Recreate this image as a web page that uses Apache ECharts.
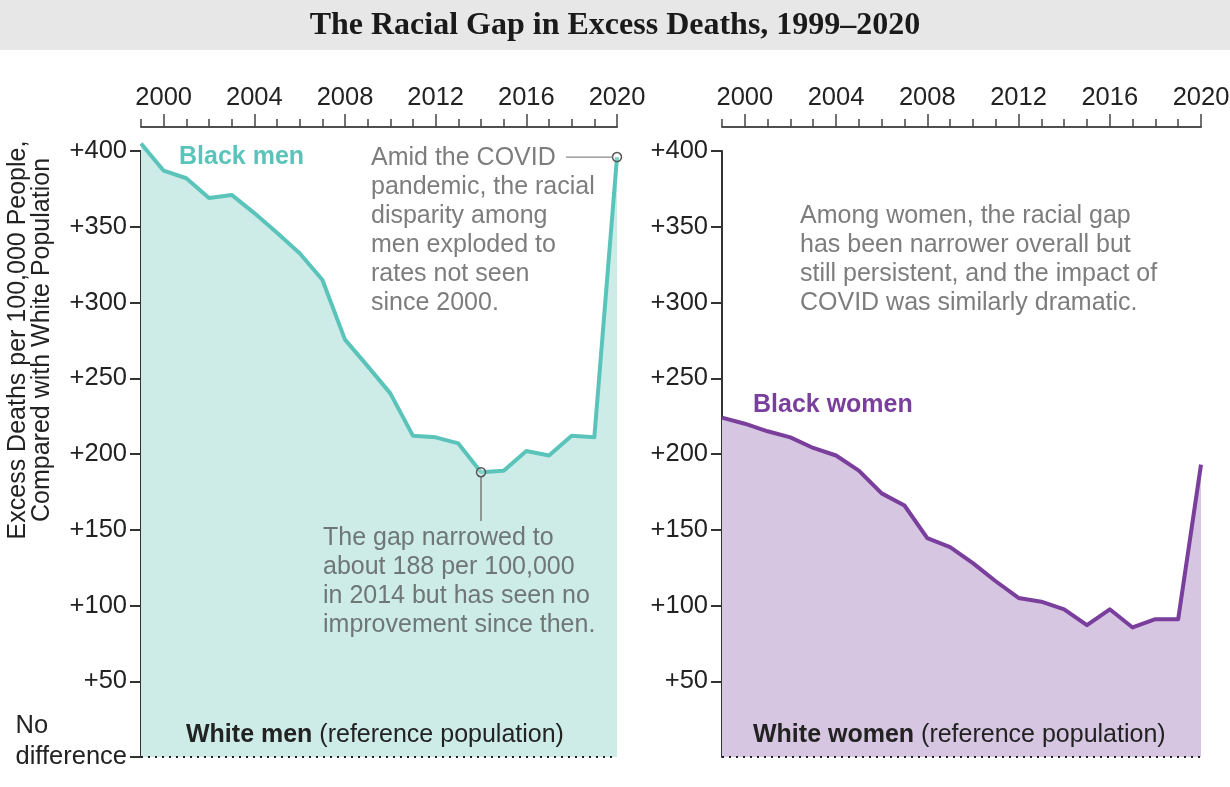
<!DOCTYPE html>
<html>
<head>
<meta charset="utf-8">
<script src="https://cdn.jsdelivr.net/npm/echarts@6/dist/echarts.min.js"></script>
<style>html,body{margin:0;padding:0;background:#fff}#c{width:1230px;height:787px}</style>
</head>
<body>
<div id="c"></div>
<script>
const years = [1999, 2000, 2001, 2002, 2003, 2004, 2005, 2006, 2007, 2008, 2009, 2010, 2011, 2012, 2013, 2014, 2015, 2016, 2017, 2018, 2019, 2020];
const majorYears = [2000, 2004, 2008, 2012, 2016, 2020];
const blackMen = [405, 387, 382, 369, 371, 359, 346, 332.5, 315, 275.5, 258, 240, 212, 211, 207, 188, 189, 202, 199, 212, 211, 396];
const blackWomen = [224, 220, 215, 211, 204, 199, 189, 174, 166, 144.5, 138.5, 128, 116, 105, 102.5, 97.5, 87, 97.5, 85.5, 91, 91, 193];
const yTickValues = [0, 50, 100, 150, 200, 250, 300, 350, 400];

const FONT = '"Liberation Sans", Arial, sans-serif';
const TEAL = '#5bc4ba', TEAL_FILL = '#cdece8';
const PURPLE = '#7a3f9c', PURPLE_FILL = '#d6c6e1';
const DARK = '#222';
const GRAY = '#7d7d7d';
const TICK_FS = 25.5, ANN_FS = 25;

const chart = echarts.init(document.getElementById('c'), null, {renderer: 'canvas'});

function xAxes(gi) {
  const base = {
    type: 'value', gridIndex: gi, min: years[0], max: years[years.length - 1], interval: 1,
    position: 'top', offset: 24,
    axisLine: {show: true, onZero: false, lineStyle: {color: '#444', width: 1.5}},
    splitLine: {show: false}
  };
  return [
    Object.assign({}, base, {
      axisTick: {show: true, length: 8, customValues: years, lineStyle: {color: '#444', width: 1.5}},
      axisLabel: {show: false}
    }),
    Object.assign({}, base, {
      axisTick: {show: true, length: 13, customValues: majorYears, lineStyle: {color: '#444', width: 1.5}},
      axisLabel: {show: true, customValues: majorYears, margin: 16, color: DARK, fontFamily: FONT, fontSize: TICK_FS, formatter: v => String(v)}
    })
  ];
}

function yAxis(gi, showZero) {
  return {
    type: 'value', gridIndex: gi, min: 0, max: 400, interval: 50,
    axisLine: {show: true, lineStyle: {color: '#333', width: 2}},
    axisTick: {show: true, length: 11, customValues: showZero ? yTickValues : yTickValues.filter(v => v > 0), lineStyle: {color: '#333', width: 2}},
    splitLine: {show: false},
    axisLabel: {
      show: true, margin: 14, color: DARK, fontFamily: FONT, fontSize: TICK_FS,
      customValues: showZero ? yTickValues : yTickValues.filter(v => v > 0),
      formatter: v => v === 0 ? '{a|No}\n{b|difference}\n{c| }' : '+' + v,
      rich: {
        a: {width: 109, align: 'left', lineHeight: 31, fontFamily: FONT, fontSize: TICK_FS, color: DARK},
        b: {lineHeight: 31, fontFamily: FONT, fontSize: TICK_FS, color: DARK},
        c: {lineHeight: 31, fontFamily: FONT, fontSize: TICK_FS, color: DARK}
      }
    }
  };
}

function series(gi, data, color, fill, markPts) {
  return {
    type: 'line', xAxisIndex: gi * 2, yAxisIndex: gi,
    data: years.map((y, i) => [y, data[i]]),
    symbol: 'none', clip: false, silent: true, z: 3,
    lineStyle: {color: color, width: 4, join: 'round'},
    areaStyle: {color: fill, opacity: 1},
    markLine: {
      silent: true, symbol: 'none', z: 5,
      label: {show: false},
      lineStyle: {color: DARK, type: [2, 5], width: 2.2},
      data: [{yAxis: 0}]
    },
    markPoint: markPts ? {
      silent: true, symbol: 'circle', symbolSize: 9, z: 6,
      label: {show: false},
      itemStyle: {color: 'rgba(255,255,255,0.25)', borderColor: '#555', borderWidth: 1.5},
      data: markPts
    } : undefined
  };
}

const iMin = years.indexOf(2014), iCovid = years.indexOf(2020);

const gridBase = {top: 151, height: 606, containLabel: false, outerBoundsMode: 'none'};
const option = {
  animation: false,
  backgroundColor: '#fff',
  grid: [
    Object.assign({left: 141, width: 476}, gridBase),
    Object.assign({left: 722, width: 479}, gridBase)
  ],
  xAxis: xAxes(0).concat(xAxes(1)),
  yAxis: [yAxis(0, true), yAxis(1, false)],
  series: [
    series(0, blackMen, TEAL, TEAL_FILL, [
      {coord: [years[iMin], blackMen[iMin]]},
      {coord: [years[iCovid], blackMen[iCovid]]}
    ]),
    series(1, blackWomen, PURPLE, PURPLE_FILL, null)
  ]
};
chart.setOption(option);

const pMin = chart.convertToPixel({xAxisIndex: 0, yAxisIndex: 0}, [years[iMin], blackMen[iMin]]);
const pCovid = chart.convertToPixel({xAxisIndex: 0, yAxisIndex: 0}, [years[iCovid], blackMen[iCovid]]);

function txt(x, y, text, color, size, weight) {
  return {
    type: 'text', x: x, y: y, z: 10, silent: true,
    style: {text: text, fill: color, font: (weight || 'normal') + ' ' + size + 'px ' + FONT, verticalAlign: 'middle', align: 'left'}
  };
}
function block(x, y, text, color) {
  return {type: 'text', x: x, y: y, z: 10, silent: true,
    style: {text: text, fill: color, font: ANN_FS + 'px ' + FONT, lineHeight: 29, align: 'left', verticalAlign: 'top'}};
}
function refLabel(x, y, bold) {
  return {type: 'text', x: x, y: y, z: 10, silent: true,
    style: {text: '{b|' + bold + '}{n| (reference population)}', align: 'left', verticalAlign: 'middle',
      rich: {b: {font: 'bold ' + ANN_FS + 'px ' + FONT, fill: DARK}, n: {font: ANN_FS + 'px ' + FONT, fill: DARK}}}};
}

chart.setOption({
  graphic: [
    {type: 'rect', z: 0, silent: true, shape: {x: 0, y: 0, width: 1230, height: 50}, style: {fill: '#e6e7e6'}},
    {type: 'text', x: 615, y: 26, z: 10, silent: true,
     style: {text: 'The Racial Gap in Excess Deaths, 1999–2020', fill: '#1a1a1a', font: 'bold 32px "Liberation Serif", serif', align: 'center', verticalAlign: 'middle'}},
    {type: 'text', x: 30, y: 340, rotation: Math.PI / 2, z: 10, silent: true,
     style: {text: 'Excess Deaths per 100,000 People,\nCompared with White Population', fill: DARK, font: '25px ' + FONT, align: 'center', verticalAlign: 'middle', lineHeight: 24}},
    txt(179, 157, 'Black men', TEAL, ANN_FS, 'bold'),
    txt(753, 405, 'Black women', PURPLE, ANN_FS, 'bold'),
    block(371, 144, 'Amid the COVID\npandemic, the racial\ndisparity among\nmen exploded to\nrates not seen\nsince 2000.', GRAY),
    block(323, 523.5, 'The gap narrowed to\nabout 188 per 100,000\nin 2014 but has seen no\nimprovement since then.', '#6f7676'),
    block(800, 201.5, 'Among women, the racial gap\nhas been narrower overall but\nstill persistent, and the impact of\nCOVID was similarly dramatic.', GRAY),
    {type: 'line', z: 10, silent: true, shape: {x1: 566, y1: pCovid[1], x2: pCovid[0] - 4.5, y2: pCovid[1]}, style: {stroke: '#8a8a8a', lineWidth: 1.3}},
    {type: 'line', z: 10, silent: true, shape: {x1: pMin[0], y1: pMin[1] + 4.5, x2: pMin[0], y2: 521}, style: {stroke: '#6a6a6a', lineWidth: 1.3}},
    refLabel(186, 735, 'White men'),
    refLabel(753, 735, 'White women')
  ]
});
</script>
</body>
</html>
